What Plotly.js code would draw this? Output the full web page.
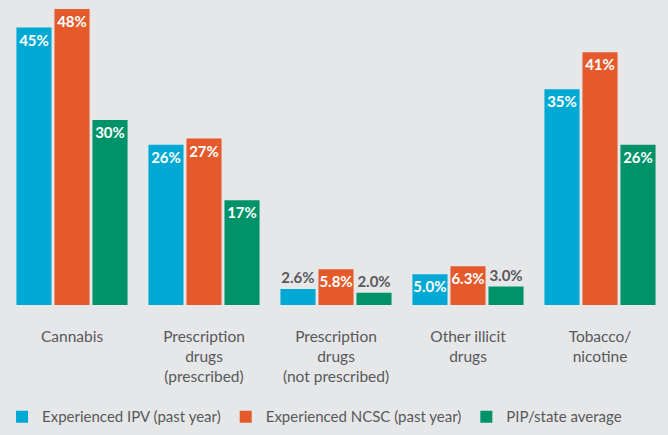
<!DOCTYPE html>
<html>
<head>
<meta charset="utf-8">
<script src="https://cdn.plot.ly/plotly-3.0.1.min.js"></script>
<style>html,body{margin:0;padding:0;background:#e6e7e8;}#chart{width:668px;height:435px;}</style>
</head>
<body>
<div id="chart"></div>
<script>
const categories = ["Cannabis", "Prescription<br>drugs<br>(prescribed)", "Prescription<br>drugs<br>(not prescribed)", "Other illicit<br>drugs", "Tobacco/<br>nicotine"];
const seriesNames = ["Experienced IPV (past year)", "Experienced NCSC (past year)", "PIP/state average"];
const ipv = [45, 26, 2.6, 5.0, 35];
const ncsc = [48, 27, 5.8, 6.3, 41];
const pip = [30, 17, 2.0, 3.0, 26];
const ipvLabels = ["45%", "26%", "2.6%", "5.0%", "35%"];
const ncscLabels = ["48%", "27%", "5.8%", "6.3%", "41%"];
const pipLabels = ["30%", "17%", "2.0%", "3.0%", "26%"];
const ipvPos = ["inside", "inside", "outside", "inside", "inside"];
const ncscPos = ["inside", "inside", "inside", "inside", "inside"];
const pipPos = ["inside", "inside", "outside", "outside", "inside"];
const colors = ["#00a9d4", "#e55a2b", "#00936a"];

const FONT = "Lato, 'Open Sans', sans-serif";
function mk(name, y, labels, pos, color) {
  return {
    type: "bar", name: name, x: categories, y: y,
    text: labels, textposition: pos, insidetextanchor: "end", textangle: 0,
    constraintext: "none", cliponaxis: false,
    insidetextfont: {color: "#ffffff", size: 15, family: FONT, weight: 700},
    outsidetextfont: {color: "#58595b", size: 15, family: FONT, weight: 700},
    marker: {color: color}, hoverinfo: "skip"
  };
}
const data = [
  mk(seriesNames[0], ipv, ipvLabels, ipvPos, colors[0]),
  mk(seriesNames[1], ncsc, ncscLabels, ncscPos, colors[1]),
  mk(seriesNames[2], pip, pipLabels, pipPos, colors[2])
];
const layout = {
  width: 668, height: 435,
  paper_bgcolor: "#e6e7e8", plot_bgcolor: "#e6e7e8",
  margin: {l: 6, r: 2, t: 9, b: 125.5},
  barmode: "group", bargap: 0.136, bargroupgap: 0.077,
  font: {family: FONT, color: "#58595b", size: 15},
  xaxis: {showline: false, ticks: "", tickfont: {size: 15.5, color: "#58595b"}, ticklabelstandoff: 20, fixedrange: true},
  yaxis: {range: [0, 48], showticklabels: false, showgrid: false, zeroline: false, fixedrange: true},
  showlegend: true,
  legend: {orientation: "h", x: -0.006, xanchor: "left", y: -0.378, yanchor: "middle",
           font: {size: 15, color: "#58595b"}, itemwidth: 30, traceorder: "normal"}
};
Plotly.newPlot("chart", data, layout, {displayModeBar: false, staticPlot: true});
</script>
</body>
</html>
